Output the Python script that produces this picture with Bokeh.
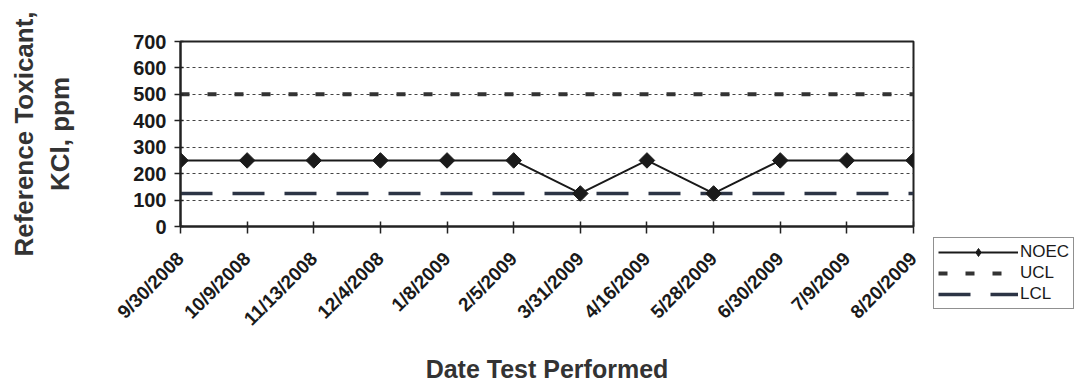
from math import pi
from bokeh.plotting import figure
from bokeh.layouts import row, column
from bokeh.models import Range1d, FixedTicker, Legend, LegendItem
from bokeh.embed import file_html
from bokeh.resources import INLINE

dates = ["9/30/2008", "10/9/2008", "11/13/2008", "12/4/2008", "1/8/2009", "2/5/2009",
         "3/31/2009", "4/16/2009", "5/28/2009", "6/30/2009", "7/9/2009", "8/20/2009"]
noec = [250, 250, 250, 250, 250, 250, 125, 250, 125, 250, 250, 250]
ucl = [500] * 12
lcl = [125] * 12
y_ticks = [0, 100, 200, 300, 400, 500, 600, 700]

x = list(range(len(dates)))

FONT = "Liberation Sans"
H = 385
W_MAIN = 933
W_LEG = 147

NOEC_STYLE = dict(line_color="#1a1a1a", line_width=2)
MARK_STYLE = dict(marker="square", angle=pi / 4, size=11,
                  fill_color="#1a1a1a", line_color="#1a1a1a")
UCL_STYLE = dict(line_color="#333333", line_width=4, line_dash="9 18")
LCL_STYLE = dict(line_color="#2c3445", line_width=3.5, line_dash="32 20")

p = figure(width=W_MAIN, height=H, output_backend="svg", toolbar_location=None,
           x_range=Range1d(0, len(dates) - 1), y_range=Range1d(0, 700),
           min_border_left=180, min_border_right=W_MAIN - 913, min_border_top=41,
           min_border_bottom=H - 231, background_fill_color="white",
           border_fill_color="white")

p.outline_line_color = "#222222"
p.outline_line_width = 2

# grid
p.xgrid.grid_line_color = None
p.ygrid.ticker = FixedTicker(ticks=y_ticks)
p.ygrid.grid_line_color = "#444444"
p.ygrid.grid_line_dash = "3 3"
p.ygrid.grid_line_width = 1.2

# series
p.line(x, ucl, **UCL_STYLE)
p.line(x, lcl, **LCL_STYLE)
p.line(x, noec, **NOEC_STYLE)
p.scatter(x, noec, **MARK_STYLE)

# axes
p.xaxis.ticker = FixedTicker(ticks=x)
p.xaxis.major_label_overrides = {i: d for i, d in enumerate(dates)}
p.xaxis.major_label_orientation = pi / 4
p.yaxis.ticker = FixedTicker(ticks=y_ticks)
p.xaxis.minor_tick_line_color = None
p.yaxis.minor_tick_line_color = None

for ax in (p.xaxis, p.yaxis):
    ax.axis_line_width = 2
    ax.axis_line_color = "#222222"
    ax.major_tick_line_color = "#222222"
    ax.major_tick_line_width = 1.5
    ax.major_label_text_font = FONT
    ax.major_label_text_font_style = "bold"
    ax.major_label_text_color = "#1a1a1a"
    ax.axis_label_text_font = FONT
    ax.axis_label_text_font_style = "bold"
    ax.axis_label_text_color = "#333333"

p.yaxis.major_label_text_font_size = "20px"
p.xaxis.major_label_text_font_size = "19px"
p.xaxis.major_tick_in = 5
p.xaxis.major_tick_out = 7
p.yaxis.major_tick_in = 3
p.yaxis.major_tick_out = 6
p.yaxis.major_label_standoff = 8
p.xaxis.major_label_standoff = 22

p.xaxis.axis_label = "Date Test Performed"
p.xaxis.axis_label_text_font_size = "25px"
p.xaxis.axis_label_standoff = 15

p.yaxis.axis_label = "Reference Toxicant,\nKCl, ppm"
p.yaxis.axis_label_text_font_size = "26px"
p.yaxis.axis_label_text_line_height = 1.2
p.yaxis.axis_label_standoff = 55

# legend figure to the right of the chart
pl = figure(width=W_LEG, height=H, output_backend="svg", toolbar_location=None,
            x_range=Range1d(1000, 1001), y_range=Range1d(1000, 1001),
            x_axis_location=None, y_axis_location=None,
            min_border_left=0, min_border_right=0, min_border_top=237,
            min_border_bottom=0, outline_line_color=None,
            background_fill_color="white", border_fill_color="white")
pl.grid.visible = False
l_noec = pl.line(x, noec, **NOEC_STYLE)
m_noec = pl.scatter(x, noec, marker="diamond", size=21,
                    fill_color="#1a1a1a", line_color="#1a1a1a")
l_ucl = pl.line(x, ucl, **UCL_STYLE)
l_lcl = pl.line(x, lcl, **LCL_STYLE)

legend = Legend(items=[
    LegendItem(label="NOEC", renderers=[l_noec, m_noec]),
    LegendItem(label="UCL", renderers=[l_ucl]),
    LegendItem(label="LCL", renderers=[l_lcl]),
], location="top_left")
legend.border_line_color = "#222222"
legend.border_line_width = 1.5
legend.background_fill_color = "white"
legend.background_fill_alpha = 1
legend.label_text_font = FONT
legend.label_text_font_size = "17px"
legend.label_text_color = "#1a1a1a"
legend.glyph_width = 80
legend.glyph_height = 20
legend.spacing = 1
legend.padding = 4
legend.margin = 0
legend.label_standoff = 2
pl.add_layout(legend)

layout = row(p, column(pl))
open("out.html", "w").write(file_html(layout, INLINE))
